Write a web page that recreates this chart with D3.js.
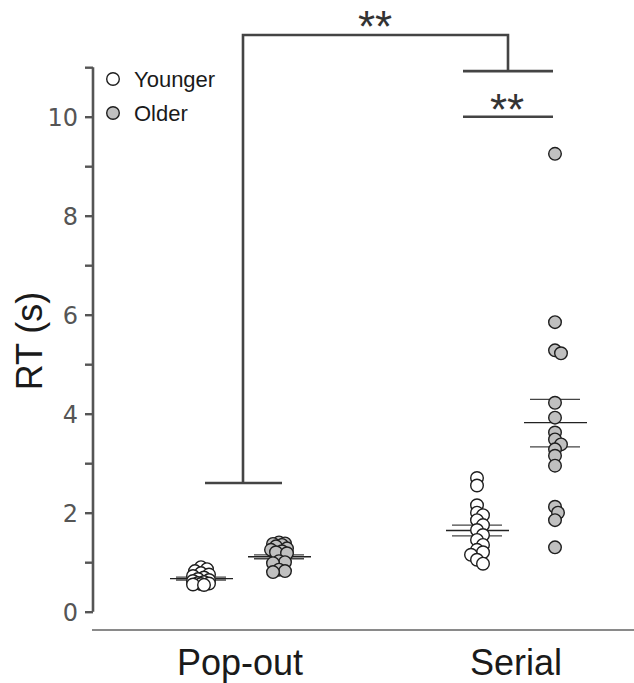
<!DOCTYPE html>
<html><head><meta charset="utf-8">
<script src="https://cdn.jsdelivr.net/npm/d3@7"></script>
<style>body{margin:0;background:#fff}svg{display:block}</style>
</head><body>
<svg id="c" width="634" height="683"></svg>
<script>
const conditions = ["Pop-out", "Serial"];
const groups = ["Younger", "Older"];
const popYounger = [0.90,0.86,0.82,0.78,0.75,0.72,0.69,0.66,0.64,0.62,0.60,0.58,0.57,0.56,0.55,0.54];
const popOlder   = [1.40,1.38,1.37,1.35,1.32,1.28,1.25,1.22,1.20,1.18,1.02,1.00,0.98,0.85,0.82,0.80];
const serYounger = [2.70,2.55,2.15,2.00,1.95,1.85,1.75,1.65,1.55,1.45,1.35,1.25,1.20,1.15,1.05,0.97];
const serOlder   = [9.25,5.85,5.28,5.22,4.22,3.92,3.62,3.48,3.38,3.28,3.15,2.95,2.12,2.00,1.85,1.30];
const means = [0.67, 1.11, 1.64, 3.82];
const semHi = [0.70, 1.15, 1.75, 4.29];
const semLo = [0.64, 1.07, 1.53, 3.33];
const yTicks = [0,1,2,3,4,5,6,7,8,9,10,11];
const yLabels = [0,2,4,6,8,10];
const sigLabel = "**";

const svg = d3.select("#c");
const y = d3.scaleLinear().domain([0, 11]).range([611.7, 67.2]);
const x = d3.scaleBand().domain(conditions).range([102, 654]).paddingInner(0).paddingOuter(0);
const xg = d3.scaleBand().domain(groups).range([-78, 78]).padding(0);
const cx = (c, g) => x(c) + x.bandwidth()/2 + xg(g) + xg.bandwidth()/2;

const sets = [
  {c:"Pop-out", g:"Younger", v:popYounger},
  {c:"Pop-out", g:"Older", v:popOlder},
  {c:"Serial", g:"Younger", v:serYounger},
  {c:"Serial", g:"Older", v:serOlder}
];
const r = 6.3;

// x baseline
svg.append("line").attr("x1", 92).attr("x2", 634).attr("y1", 630).attr("y2", 630)
  .attr("stroke", "#8a8a8a").attr("stroke-width", 2.2);

// y axis
const ax = svg.append("g").attr("transform", "translate(93,0)")
  .call(d3.axisLeft(y).tickValues(yTicks).tickSize(8).tickPadding(7)
    .tickFormat(d => yLabels.includes(d) ? d : ""));
ax.select(".domain").attr("stroke", "#555").attr("stroke-width", 2.6).attr("d", `M0,${y(0)}V${y(11)}`);
ax.selectAll(".tick line").attr("stroke", "#555").attr("stroke-width", 2.4);
ax.selectAll(".tick text").attr("fill", "#555").attr("font-family", "DejaVu Sans").attr("font-size", 24).attr("dy", "0.36em");

// y label
svg.append("text").attr("transform", `translate(42,341) rotate(-90)`).attr("text-anchor", "middle")
  .attr("font-family", "Liberation Sans, Arial").attr("font-size", 36).attr("fill", "#1a1a1a").text("RT (s)");

// x labels
svg.selectAll(".xl").data(conditions).join("text")
  .attr("x", d => x(d) + x.bandwidth()/2).attr("y", 675).attr("text-anchor", "middle")
  .attr("font-family", "Liberation Sans, Arial").attr("font-size", 36).attr("fill", "#1a1a1a").text(d => d);

// mean and sem lines
sets.forEach((s, i) => {
  const c = cx(s.c, s.g);
  const g = svg.append("g").attr("stroke", "#222").attr("stroke-width", 1.3);
  g.append("line").attr("x1", c - 31).attr("x2", c + 32).attr("y1", y(means[i])).attr("y2", y(means[i]));
  [semHi[i], semLo[i]].forEach(v => g.append("line").attr("x1", c - 25).attr("x2", c + 25).attr("y1", y(v)).attr("y2", y(v)).attr("stroke", "#444"));
});

// points with simple swarm placement
sets.forEach(s => {
  const c = cx(s.c, s.g);
  const placed = [];
  s.v.forEach(v => {
    const py = y(v);
    const cands = [0, 3, -3, 6, -6, 8, -8];
    let best = null;
    for (const o of cands) {
      if (placed.every(p => Math.hypot(p[0] - o, p[1] - py) > r * 0.95)) { best = o; break; }
    }
    if (best === null) {
      let bd = -1;
      for (const o of cands) {
        const d = Math.min(...placed.map(p => Math.hypot(p[0] - o, p[1] - py)));
        if (d > bd) { bd = d; best = o; }
      }
    }
    placed.push([best, py]);
  });
  svg.append("g").selectAll("circle").data(placed).join("circle")
    .attr("cx", d => c + d[0]).attr("cy", d => d[1]).attr("r", r)
    .attr("fill", s.g === "Younger" ? "#ffffff" : "#c0c0c0")
    .attr("stroke", "#1e1e1e").attr("stroke-width", 1.4);
});

// significance brackets
const br = svg.append("g").attr("stroke", "#444").attr("stroke-width", 2.6).attr("fill", "none");
const popC = x("Pop-out") + x.bandwidth()/2;
const serC = x("Serial") + x.bandwidth()/2;
br.append("path").attr("d", `M${popC + 3},${y(2.6)}V${y(11.65)}H${serC - 8}V${y(10.92)}`);
br.append("line").attr("x1", popC - 35).attr("x2", popC + 42).attr("y1", y(2.6)).attr("y2", y(2.6));
br.append("line").attr("x1", serC - 53).attr("x2", serC + 37).attr("y1", y(10.92)).attr("y2", y(10.92));
br.append("line").attr("x1", serC - 53).attr("x2", serC + 37).attr("y1", y(10)).attr("y2", y(10));
svg.append("text").attr("x", (popC + serC)/2 - 3).attr("y", 42).attr("text-anchor", "middle")
  .attr("font-family", "Liberation Sans, Arial").attr("font-size", 44).attr("fill", "#333").text(sigLabel);
svg.append("text").attr("x", serC - 9).attr("y", 125).attr("text-anchor", "middle")
  .attr("font-family", "Liberation Sans, Arial").attr("font-size", 44).attr("fill", "#333").text(sigLabel);

// legend
const lg = svg.append("g");
groups.forEach((g, i) => {
  lg.append("circle").attr("cx", 113).attr("cy", 79 + i*34).attr("r", 6.3)
    .attr("fill", g === "Younger" ? "#fff" : "#c0c0c0").attr("stroke", "#1e1e1e").attr("stroke-width", 1.4);
  lg.append("text").attr("x", 134).attr("y", 87 + i*34).attr("font-family", "Liberation Sans, Arial")
    .attr("font-size", 22).attr("fill", "#1a1a1a").text(g);
});
</script>
</body></html>
